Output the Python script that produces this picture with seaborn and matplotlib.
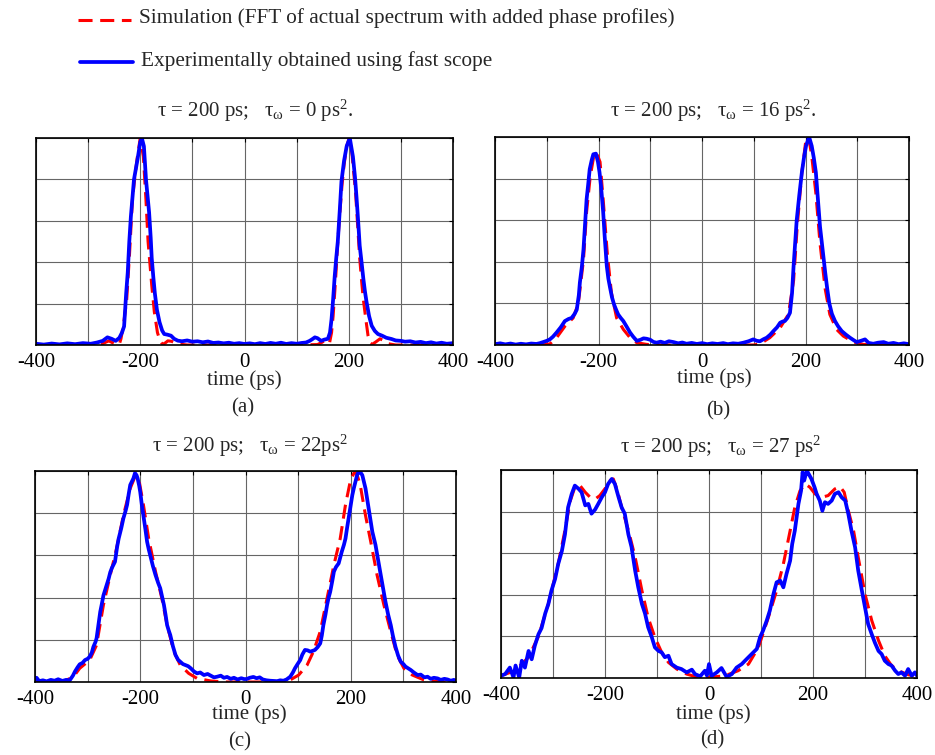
import numpy as np
import pandas as pd
import seaborn as sns
import matplotlib.pyplot as plt
from matplotlib.lines import Line2D

# ---------------------------------------------------------------- data
# (a) tau_w = 0 ps^2
a_sim_t = [-400, -300, -275, -265, -260, -254, -245, -240, -237, -232,
           -226, -221, -215, -210, -206, -200, -194, -189, -185, -178,
           -173, -167, -162, -157, -152, -147, -140, -133, -125, -110,
           100, 140, 148, 153, 158, 163, 167, 170, 173, 176,
           179, 183, 187, 191, 196, 201, 206, 210, 213, 217,
           221, 225, 228, 233, 237, 241, 245, 252, 260, 268,
           276, 290, 400]
a_sim_v = [0.0, 0.0, 0.003, 0.015, 0.02, 0.012, 0.0, 0.005, 0.03, 0.1,
           0.22, 0.42, 0.70, 0.82, 0.90, 1.0, 0.91, 0.70, 0.50, 0.29,
           0.16, 0.06, 0.02, 0.003, 0.01, 0.02, 0.018, 0.01, 0.004, 0.0,
           0.0, 0.002, 0.012, 0.02, 0.012, 0.008, 0.06, 0.14, 0.25, 0.37,
           0.50, 0.64, 0.77, 0.87, 0.96, 1.0, 0.93, 0.82, 0.74, 0.58,
           0.42, 0.30, 0.22, 0.12, 0.045, 0.01, 0.003, 0.015, 0.03, 0.02,
           0.006, 0.0, 0.0]
a_exp_t = [-400, -385, -370, -355, -340, -325, -310, -295, -283, -272,
           -263, -255, -247, -240, -235, -231, -227, -224, -221, -218,
           -212, -205, -200, -197, -193, -189, -186, -183, -180, -178,
           -175, -172, -168, -163, -158, -154, -148, -141, -135, -128,
           -120, -110, -100, -90, -80, -70, -60, -50, -40, -30,
           -20, -10, 0, 10, 20, 30, 40, 50, 60, 70,
           80, 90, 100, 110, 118, 125, 130, 135, 140, 147,
           153, 160, 164, 167, 170, 173, 176, 179, 183, 186,
           191, 196, 202, 208, 212, 215, 218, 221, 225, 228,
           231, 234, 239, 244, 250, 256, 264, 272, 282, 290,
           300, 308, 318, 328, 338, 348, 358, 368, 378, 388,
           400]
a_exp_v = [0.006, 0.002, 0.007, 0.003, 0.008, 0.004, 0.009, 0.006, 0.012, 0.02,
           0.037, 0.03, 0.02, 0.035, 0.06, 0.09, 0.25, 0.35, 0.5, 0.62,
           0.8, 0.9, 0.98, 1.0, 0.96, 0.8, 0.72, 0.64, 0.52, 0.42,
           0.33, 0.25, 0.17, 0.11, 0.07, 0.053, 0.05, 0.045, 0.03, 0.021,
           0.018, 0.022, 0.016, 0.018, 0.013, 0.017, 0.01, 0.012, 0.008, 0.011,
           0.006, 0.009, 0.005, 0.008, 0.004, 0.009, 0.005, 0.01, 0.006, 0.011,
           0.005, 0.009, 0.006, 0.01, 0.012, 0.02, 0.028, 0.037, 0.033, 0.02,
           0.026, 0.03, 0.06, 0.125, 0.22, 0.33, 0.42, 0.5, 0.66, 0.79,
           0.89, 0.96, 1.0, 0.91, 0.81, 0.71, 0.6, 0.48, 0.39, 0.32,
           0.26, 0.21, 0.14, 0.093, 0.068, 0.053, 0.045, 0.035, 0.029, 0.022,
           0.02, 0.016, 0.018, 0.012, 0.015, 0.009, 0.013, 0.007, 0.011, 0.006,
           0.009]

# (b) tau_w = 16 ps^2
b_sim_t = [-400, -310, -294, -281, -265, -249, -239, -229, -223, -216,
           -209, -204, -197, -191, -183, -175, -165, -152, -139, -126,
           -107, -90, 100, 112, 131, 151, 167, 177, 184, 193,
           201, 206, 212, 220, 228, 238, 247, 260, 273, 293,
           312, 330, 400]
b_sim_v = [0.0, 0.0, 0.005, 0.035, 0.09, 0.13, 0.2, 0.41, 0.64, 0.81,
           0.91, 0.925, 0.88, 0.70, 0.44, 0.25, 0.13, 0.075, 0.035, 0.011,
           0.003, 0.0, 0.0, 0.005, 0.035, 0.083, 0.147, 0.31, 0.57, 0.83,
           0.99, 1.0, 0.91, 0.73, 0.49, 0.27, 0.147, 0.075, 0.043, 0.014,
           0.003, 0.0, 0.0]
b_exp_t = [-400, -390, -380, -370, -360, -350, -340, -330, -320, -313,
           -307, -300, -294, -288, -281, -273, -265, -258, -252, -246,
           -242, -238, -236, -232, -229, -226, -223, -220, -217, -213,
           -210, -205, -201, -198, -195, -191, -188, -184, -181, -178,
           -174, -170, -166, -162, -157, -152, -146, -139, -133, -126,
           -119, -113, -107, -100, -94, -88, -80, -72, -64, -55,
           -46, -38, -30, -20, -10, 0, 10, 20, 30, 41,
           50, 60, 70, 80, 90, 99, 106, 112, 119, 125,
           132, 138, 145, 151, 156, 160, 165, 170, 174, 177,
           180, 183, 188, 193, 197, 201, 207, 212, 216, 220,
           224, 228, 233, 238, 242, 246, 251, 257, 263, 270,
           278, 286, 292, 299, 307, 315, 322, 331, 340, 351,
           360, 370, 380, 390, 400]
b_exp_v = [0.004, 0.008, 0.003, 0.007, 0.002, 0.006, 0.003, 0.007, 0.005, 0.009,
           0.014, 0.02, 0.027, 0.04, 0.06, 0.085, 0.115, 0.125, 0.13, 0.15,
           0.17, 0.24, 0.30, 0.38, 0.46, 0.58, 0.70, 0.77, 0.845, 0.89,
           0.917, 0.92, 0.88, 0.83, 0.76, 0.64, 0.52, 0.38, 0.32, 0.28,
           0.23, 0.195, 0.17, 0.147, 0.13, 0.115, 0.09, 0.06, 0.04, 0.02,
           0.025, 0.032, 0.03, 0.025, 0.015, 0.011, 0.016, 0.01, 0.018, 0.014,
           0.008, 0.012, 0.006, 0.01, 0.005, 0.009, 0.004, 0.008, 0.005, 0.009,
           0.004, 0.008, 0.006, 0.011, 0.018, 0.027, 0.02, 0.018, 0.028, 0.035,
           0.05, 0.067, 0.085, 0.107, 0.113, 0.115, 0.13, 0.155, 0.25, 0.38,
           0.49, 0.60, 0.72, 0.83, 0.90, 0.957, 1.0, 0.957, 0.90, 0.83,
           0.70, 0.57, 0.46, 0.35, 0.27, 0.20, 0.15, 0.115, 0.09, 0.067,
           0.05, 0.035, 0.025, 0.014, 0.02, 0.027, 0.01, 0.006, 0.011, 0.014,
           0.006, 0.01, 0.004, 0.008, 0.004]

# (c) tau_w = 22 ps^2
c_sim_t = [-400, -346, -327, -315, -296, -283, -270, -257, -245, -232,
           -219, -210, -203, -194, -184, -171, -159, -149, -136, -124,
           -108, -92, -66, -40, 60, 85, 101, 117, 129, 142,
           155, 168, 180, 190, 199, 206, 211, 218, 228, 238,
           250, 263, 276, 288, 301, 317, 339, 371, 400]
c_sim_v = [0.0, 0.002, 0.025, 0.065, 0.104, 0.175, 0.365, 0.507, 0.633, 0.79,
           0.918, 0.973, 0.965, 0.84, 0.68, 0.523, 0.397, 0.27, 0.144, 0.08,
           0.041, 0.017, 0.005, 0.0, 0.0, 0.01, 0.033, 0.08, 0.144, 0.239,
           0.397, 0.555, 0.68, 0.84, 0.95, 0.99, 0.99, 0.934, 0.79, 0.665,
           0.507, 0.365, 0.239, 0.128, 0.065, 0.033, 0.01, 0.0, 0.0]
c_exp_t = [-400, -397, -392, -385, -378, -370, -363, -356, -348, -341,
           -334, -328, -324, -319, -315, -310, -305, -300, -296, -292,
           -289, -285, -283, -279, -276, -273, -270, -265, -260, -257,
           -254, -250, -248, -244, -241, -236, -232, -228, -225, -222,
           -219, -216, -213, -210, -207, -205, -202, -200, -197, -194,
           -190, -187, -184, -181, -176, -171, -166, -162, -158, -155,
           -152, -149, -146, -143, -138, -133, -128, -124, -119, -114,
           -109, -104, -98, -92, -86, -79, -72, -66, -60, -54,
           -47, -41, -35, -28, -22, -15, -8, -3, 2, 8,
           15, 21, 27, 33, 40, 47, 53, 60, 66, 72,
           78, 85, 90, 94, 99, 104, 108, 113, 118, 123,
           128, 132, 137, 142, 145, 148, 152, 155, 158, 161,
           165, 168, 172, 177, 180, 183, 187, 190, 193, 196,
           200, 203, 206, 209, 212, 215, 218, 222, 225, 228,
           231, 234, 238, 241, 244, 247, 252, 257, 261, 266,
           271, 276, 280, 285, 290, 295, 300, 304, 309, 314,
           320, 327, 333, 340, 346, 352, 358, 365, 371, 378,
           384, 390, 396, 400]
c_exp_v = [0.01, 0.02, 0.004, 0.008, 0.003, 0.01, 0.006, 0.013, 0.005, 0.01,
           0.008, 0.03, 0.05, 0.07, 0.084, 0.09, 0.104, 0.11, 0.12, 0.14,
           0.167, 0.19, 0.207, 0.28, 0.333, 0.37, 0.41, 0.45, 0.49, 0.52,
           0.54, 0.56, 0.57, 0.64, 0.68, 0.73, 0.776, 0.81, 0.84, 0.89,
           0.934, 0.95, 0.965, 0.99, 0.98, 0.965, 0.93, 0.90, 0.84, 0.79,
           0.72, 0.665, 0.63, 0.60, 0.55, 0.507, 0.47, 0.444, 0.40, 0.365,
           0.32, 0.27, 0.245, 0.223, 0.17, 0.128, 0.105, 0.096, 0.085, 0.08,
           0.075, 0.065, 0.05, 0.041, 0.045, 0.033, 0.038, 0.03, 0.022, 0.025,
           0.03, 0.02, 0.024, 0.015, 0.02, 0.012, 0.018, 0.014, 0.014, 0.02,
           0.024, 0.018, 0.022, 0.012, 0.008, 0.006, 0.005, 0.004, 0.008, 0.006,
           0.012, 0.025, 0.045, 0.065, 0.085, 0.104, 0.13, 0.152, 0.15, 0.144,
           0.148, 0.152, 0.165, 0.183, 0.22, 0.27, 0.32, 0.365, 0.40, 0.428,
           0.48, 0.523, 0.545, 0.562, 0.59, 0.618, 0.65, 0.68, 0.73, 0.776,
           0.84, 0.886, 0.92, 0.95, 0.98, 0.997, 0.995, 0.98, 0.95, 0.918,
           0.87, 0.823, 0.76, 0.712, 0.68, 0.65, 0.58, 0.507, 0.45, 0.38,
           0.32, 0.27, 0.22, 0.167, 0.125, 0.096, 0.085, 0.073, 0.065, 0.057,
           0.045, 0.033, 0.035, 0.022, 0.025, 0.015, 0.02, 0.017, 0.01, 0.015,
           0.012, 0.006, 0.01, 0.005]

# (d) tau_w = 27 ps^2
d_sim_t = [-400, -373, -347, -328, -309, -290, -277, -267, -258, -248,
           -238, -229, -219, -210, -200, -190, -184, -176, -168, -155,
           -142, -129, -117, -104, -91, -78, -62, -43, -21, 0,
           31, 56, 76, 95, 114, 130, 143, 156, 165, 175,
           185, 194, 204, 217, 229, 242, 252, 260, 268, 278,
           287, 300, 313, 326, 338, 351, 364, 383, 400]
d_sim_v = [0.011, 0.035, 0.1, 0.2, 0.356, 0.548, 0.71, 0.85, 0.917, 0.925,
           0.893, 0.87, 0.86, 0.877, 0.91, 0.95, 0.957, 0.90, 0.82, 0.71,
           0.58, 0.42, 0.29, 0.195, 0.123, 0.075, 0.043, 0.019, 0.003, 0.003,
           0.011, 0.035, 0.067, 0.147, 0.29, 0.42, 0.548, 0.708, 0.82, 0.9,
           0.933, 0.917, 0.885, 0.869, 0.877, 0.909, 0.92, 0.893, 0.804, 0.708,
           0.58, 0.404, 0.276, 0.18, 0.107, 0.06, 0.035, 0.016, 0.006]
d_exp_t = [-400, -392, -383, -376, -372, -365, -360, -354, -347, -341,
           -335, -328, -322, -315, -309, -303, -296, -290, -283, -277,
           -271, -264, -258, -251, -245, -238, -232, -226, -219, -213,
           -206, -200, -194, -187, -181, -174, -168, -162, -155, -149,
           -142, -136, -129, -123, -117, -110, -104, -97, -91, -85,
           -78, -72, -62, -53, -43, -33, -27, -17, -8, -4,
           0, 5, 15, 24, 34, 44, 53, 63, 72, 82,
           92, 98, 104, 111, 117, 124, 130, 137, 143, 149,
           156, 160, 165, 172, 177, 180, 183, 188, 192, 197,
           203, 207, 213, 218, 223, 229, 236, 242, 249, 255,
           262, 268, 274, 281, 287, 294, 300, 306, 313, 319,
           326, 332, 338, 345, 351, 358, 364, 370, 377, 383,
           390, 396, 400]
d_exp_v = [0.011, 0.019, 0.05, 0.003, 0.06, 0.003, 0.083, 0.05, 0.13, 0.09,
           0.155, 0.21, 0.24, 0.31, 0.355, 0.42, 0.476, 0.548, 0.61, 0.69,
           0.82, 0.885, 0.925, 0.91, 0.893, 0.83, 0.837, 0.79, 0.81, 0.837,
           0.87, 0.893, 0.933, 0.957, 0.933, 0.87, 0.82, 0.79, 0.69, 0.63,
           0.516, 0.436, 0.356, 0.31, 0.244, 0.196, 0.147, 0.13, 0.123, 0.10,
           0.107, 0.067, 0.05, 0.043, 0.027, 0.04, 0.019, 0.008, 0.035, 0.012,
           0.067, 0.01, 0.027, 0.048, 0.005, 0.019, 0.05, 0.067, 0.09, 0.115,
           0.14, 0.195, 0.228, 0.276, 0.324, 0.404, 0.46, 0.468, 0.436, 0.5,
           0.564, 0.644, 0.708, 0.837, 0.9, 0.989, 0.949, 0.997, 0.98, 0.957,
           0.917, 0.885, 0.853, 0.804, 0.845, 0.837, 0.853, 0.885, 0.893, 0.869,
           0.853, 0.788, 0.708, 0.628, 0.516, 0.42, 0.34, 0.26, 0.21, 0.17,
           0.13, 0.115, 0.083, 0.067, 0.06, 0.035, 0.019, 0.027, 0.011, 0.043,
           0.011, 0.027, 0.011]

panel_titles = [
    r"τ = 200 ps;   τ$_{\mathrm{ω}}$ = 0 ps$^{\mathrm{2}}$.",
    r"τ = 200 ps;   τ$_{\mathrm{ω}}$ = 16 ps$^{\mathrm{2}}$.",
    r"τ = 200 ps;   τ$_{\mathrm{ω}}$ = 22ps$^{\mathrm{2}}$",
    r"τ = 200 ps;   τ$_{\mathrm{ω}}$ = 27 ps$^{\mathrm{2}}$",
]
panel_tags = ["(a)", "(b)", "(c)", "(d)"]
tick_values = [-400, -300, -200, -100, 0, 100, 200, 300, 400]
tick_labels = ["-400", "", "-200", "", "0", "", "200", "", "400"]
legend_labels = ["Simulation (FFT of actual spectrum with added phase profiles)",
                 "Experimentally obtained using fast scope"]

# ---------------------------------------------------------------- style
sns.set_style("white")
plt.rcParams.update({
    "font.family": ["Liberation Serif", "DejaVu Serif"],
    "mathtext.fontset": "custom",
    "mathtext.rm": "Liberation Serif",
    "mathtext.it": "Liberation Serif:italic",
    "mathtext.bf": "Liberation Serif:bold",
    "axes.unicode_minus": False,
})

W, H = 935, 755
FS = 15
LEG_FS = 15.3
RED = "#ff0000"
BLUE = "#0000ff"
SIM_DASH = (0, (4.6, 2.5))

fig = plt.figure(figsize=(W / 100, H / 100), dpi=100)


def px(x, y):
    """pixel (from top-left) -> figure fraction"""
    return x / W, 1 - y / H


def rect(left, top, right, bottom):
    return [left / W, 1 - bottom / H, (right - left) / W, (bottom - top) / H]


panels = [
    dict(rect=rect(36, 138, 453, 345), sim=(a_sim_t, a_sim_v), exp=(a_exp_t, a_exp_v),
         title_xy=(255, 117), xlabel_xy=(244, 385), tag_xy=(243, 408)),
    dict(rect=rect(495, 137, 909, 345), sim=(b_sim_t, b_sim_v), exp=(b_exp_t, b_exp_v),
         title_xy=(713, 117), xlabel_xy=(714, 383), tag_xy=(718, 411)),
    dict(rect=rect(35, 471, 456, 682), sim=(c_sim_t, c_sim_v), exp=(c_exp_t, c_exp_v),
         title_xy=(250, 452), xlabel_xy=(249, 719), tag_xy=(240, 742)),
    dict(rect=rect(501, 470, 917, 678), sim=(d_sim_t, d_sim_v), exp=(d_exp_t, d_exp_v),
         title_xy=(721, 453), xlabel_xy=(713, 719), tag_xy=(712, 740)),
]

for i, p in enumerate(panels):
    ax = fig.add_axes(p["rect"])
    sim = pd.DataFrame({"time": p["sim"][0], "power": p["sim"][1]})
    exp = pd.DataFrame({"time": p["exp"][0], "power": p["exp"][1]})
    sns.lineplot(data=sim, x="time", y="power", ax=ax, color=RED, lw=2.2,
                 linestyle=SIM_DASH, estimator=None, sort=False, legend=False)
    sns.lineplot(data=exp, x="time", y="power", ax=ax, color=BLUE, lw=2.7,
                 estimator=None, sort=False, legend=False)
    ax.set_xlim(-400, 400)
    ax.set_ylim(0, 1)
    ax.set_xticks(tick_values)
    ax.set_xticklabels(tick_labels)
    ax.set_yticks(np.linspace(0, 1, 6))
    ax.set_yticklabels([])
    ax.set_xlabel("")
    ax.set_ylabel("")
    ax.grid(True, color="#666666", lw=0.8)
    ax.set_axisbelow(True)
    ax.tick_params(direction="in", length=3, width=0.8, top=True, right=True,
                   labelsize=FS, pad=6, colors="black")
    for s in ax.spines.values():
        s.set_color("black")
        s.set_linewidth(1.2)

    fig.text(*px(*p["title_xy"]), panel_titles[i], fontsize=FS,
             ha="center", va="baseline")
    fig.text(*px(*p["xlabel_xy"]), "time (ps)", fontsize=FS,
             ha="center", va="baseline")
    fig.text(*px(*p["tag_xy"]), panel_tags[i], fontsize=FS,
             ha="center", va="center")

# legend block at the top
fig.add_artist(Line2D([78 / W, 131 / W], [1 - 20 / H, 1 - 20 / H], color=RED,
                      lw=2.2, linestyle=SIM_DASH, transform=fig.transFigure))
fig.text(*px(139, 23), legend_labels[0], fontsize=LEG_FS, ha="left", va="baseline")
fig.add_artist(Line2D([80 / W, 133 / W], [1 - 62 / H, 1 - 62 / H], color=BLUE,
                      lw=2.7, transform=fig.transFigure))
fig.text(*px(141, 66), legend_labels[1], fontsize=LEG_FS, ha="left", va="baseline")

fig.savefig("out.png", dpi=100)
